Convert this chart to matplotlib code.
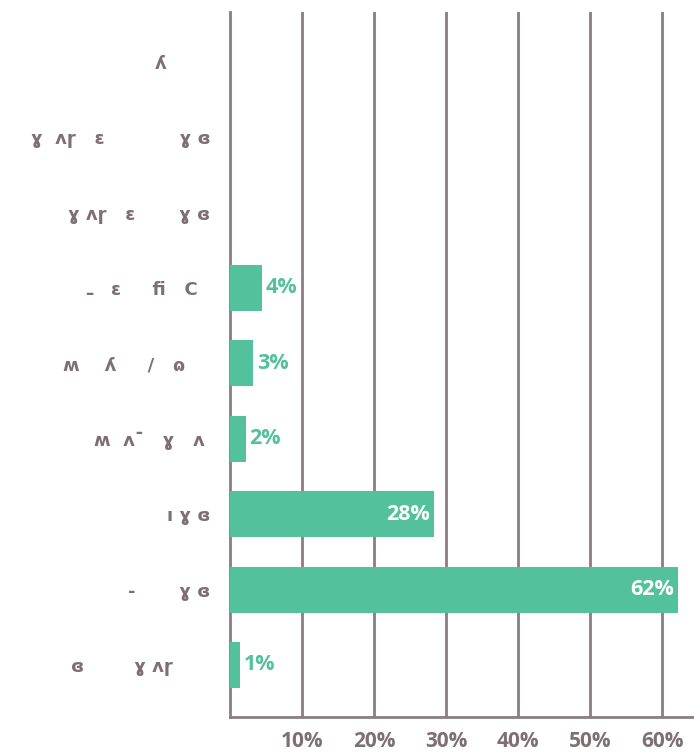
import matplotlib
matplotlib.use("Agg")
import matplotlib.pyplot as plt

# category labels (glyphs in the reference are broken; kept as the visible fragments)
categories = [
    "ʎ       ",
    "ɣ  ʌɼ   ɛ            ɣ ɞ",
    "ɣ ʌɼ   ɛ       ɣ ɞ",
    "ـ   ɛ     ﬁ   C  ",
    "ʍ    ʎ     /   ɷ    ",
    "ʍ  ʌ¯   ɣ   ʌ ",
    "ı ɣ ɞ",
    "-       ɣ ɞ",
    "ɞ        ɣ ʌɼ      ",
]
values = [0, 0, 0, 4.4, 3.2, 2.2, 28.3, 62.2, 1.4]
xticks = [10, 20, 30, 40, 50, 60]
xtick_labels = ["10%", "20%", "30%", "40%", "50%", "60%"]

bar_color = "#52c19c"
line_color = "#8a7c80"
text_color = "#7e6f73"

plt.rcParams["font.family"] = ["Open Sans", "DejaVu Sans"]

fig = plt.figure(figsize=(6.94, 7.52), dpi=100)
ax = fig.add_axes([230 / 694, 35 / 752, 464 / 694, 705 / 752])

ypos = list(range(len(categories)))
ax.barh(ypos, values, height=0.61, color=bar_color, zorder=3)

# value labels: inside (white) for long bars, outside (green) for short ones
for y, v in zip(ypos, values):
    if v <= 0:
        continue
    label = f"{v:.0f}%"
    if v > 20:
        ax.text(v - 0.6, y, label, ha="right", va="center", color="white",
                fontsize=15.5, fontweight="bold", zorder=4)
    else:
        ax.text(v + 0.5, y, label, ha="left", va="center", color=bar_color,
                fontsize=15.5, fontweight="bold", zorder=4)

ax.set_xlim(0, 64.4)
ax.set_ylim(8.69, -0.66)
ax.set_yticks(ypos)
ax.set_yticklabels(categories, color=text_color, fontsize=13, fontweight="bold",
                   family=["DejaVu Sans"])
ax.set_xticks(xticks)
ax.set_xticklabels(xtick_labels, color=text_color, fontsize=15, fontweight="bold")
ax.tick_params(axis="x", length=0, pad=10)
ax.tick_params(axis="y", length=0, pad=14)

ax.grid(axis="x", color=line_color, linewidth=2, zorder=1)
ax.set_axisbelow(True)
for side in ["top", "right"]:
    ax.spines[side].set_visible(False)
for side in ["left", "bottom"]:
    ax.spines[side].set_color(line_color)
    ax.spines[side].set_linewidth(2)

fig.savefig("out.png", dpi=100)
